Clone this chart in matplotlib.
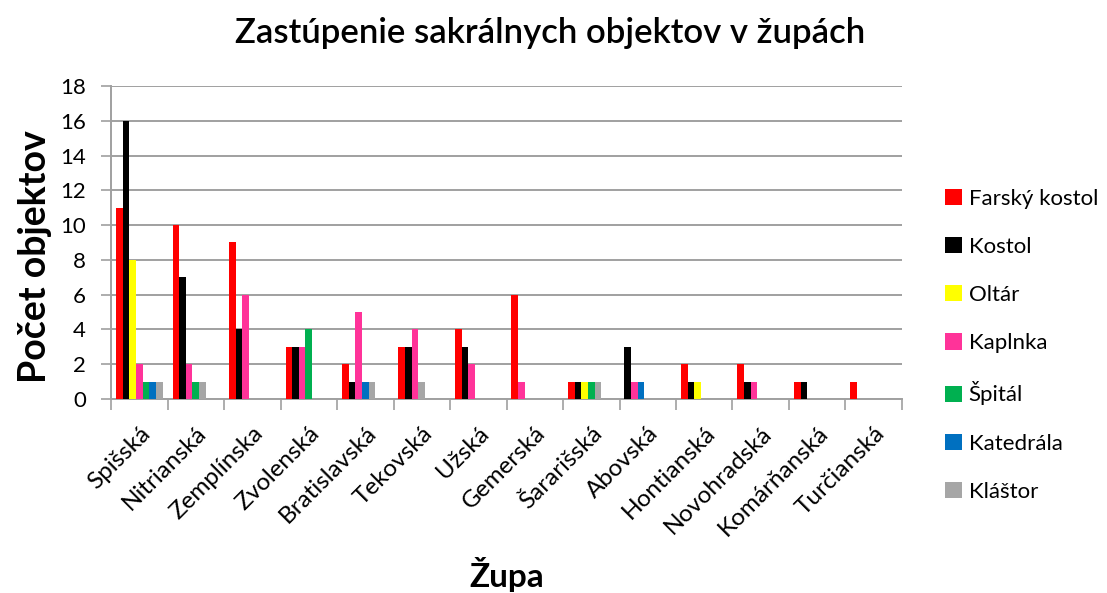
import matplotlib
matplotlib.use("Agg")
import matplotlib.pyplot as plt
from matplotlib.patches import Patch

categories = ["Spišská", "Nitrianská", "Zemplínska", "Zvolenská", "Bratislavská",
              "Tekovská", "Užská", "Gemerská", "Šararišská", "Abovská",
              "Hontianská", "Novohradská", "Komárňanská", "Turčianská"]
series_names = ["Farský kostol", "Kostol", "Oltár", "Kaplnka", "Špitál", "Katedrála", "Kláštor"]
farsky_kostol = [11, 10, 9, 3, 2, 3, 4, 6, 1, 0, 2, 2, 1, 1]
kostol        = [16, 7, 4, 3, 1, 3, 3, 0, 1, 3, 1, 1, 1, 0]
oltar         = [8, 0, 0, 0, 0, 0, 0, 0, 1, 0, 1, 0, 0, 0]
kaplnka       = [2, 2, 6, 3, 5, 4, 2, 1, 0, 1, 0, 1, 0, 0]
spital        = [1, 1, 0, 4, 0, 0, 0, 0, 1, 0, 0, 0, 0, 0]
katedrala     = [1, 0, 0, 0, 1, 0, 0, 0, 0, 1, 0, 0, 0, 0]
klastor       = [1, 1, 0, 0, 1, 1, 0, 0, 1, 0, 0, 0, 0, 0]
colors = ["#FF0000", "#000000", "#FFFF00", "#FF3399", "#00B050", "#0070C0", "#A6A6A6"]
yticks = [0, 2, 4, 6, 8, 10, 12, 14, 16, 18]

series = [farsky_kostol, kostol, oltar, kaplnka, spital, katedrala, klastor]

FONT = ["Lato", "DejaVu Sans"]
plt.rcParams["font.family"] = FONT

fig = plt.figure(figsize=(11.07, 5.93), dpi=100)
ax = fig.add_axes([0.1003, 0.3272, 0.8148 - 0.1003, 0.855 - 0.3272])

w = 1 / 8.5
for i in range(len(categories)):
    pos = i + 0.75 * w
    for s, col in zip(series, colors):
        v = s[i]
        if v > 0:
            ax.bar(pos, v, width=w, align="edge", color=col, linewidth=0, zorder=3)
            pos += w

ax.set_xlim(0, len(categories))
ax.set_ylim(0, 18)
ax.set_yticks(yticks)
ax.tick_params(axis="y", labelsize=16, length=7, color="#A0A0A0", width=1.2, pad=11)
ax.set_xticks(range(len(categories) + 1))
ax.set_xticklabels([])
ax.tick_params(axis="x", which="major", length=8, color="#A0A0A0", width=1.2)
ax.set_xticks([i + 0.5 for i in range(len(categories))], minor=True)
ax.set_xticklabels(categories, minor=True, rotation=45, ha="right",
                   rotation_mode="anchor", fontsize=17.5)
ax.tick_params(axis="x", which="minor", length=0, pad=17)

ax.grid(axis="y", color="#A0A0A0", linewidth=1.4, zorder=0)
for sp in ["top", "right"]:
    ax.spines[sp].set_visible(False)
for sp in ["left", "bottom"]:
    ax.spines[sp].set_color("#A0A0A0")
    ax.spines[sp].set_linewidth(1.4)

fig.text(0.497, 0.945, "Zastúpenie sakrálnych objektov v župách", ha="center",
         va="center", fontsize=25, fontweight="semibold")
fig.text(0.032, 0.567, "Počet objektov", rotation=90, ha="center", va="center",
         fontsize=27, fontweight="bold")
fig.text(0.458, 0.032, "Župa", ha="center", va="center", fontsize=24, fontweight="bold")

handles = [Patch(facecolor=c, edgecolor="none") for c in colors]
fig.legend(handles, series_names, loc="upper left", bbox_to_anchor=(0.846, 0.697),
           frameon=False, fontsize=16, handlelength=0.75, handleheight=0.75,
           handletextpad=0.3, labelspacing=1.27, borderaxespad=0)

fig.savefig("out.png", dpi=100)
